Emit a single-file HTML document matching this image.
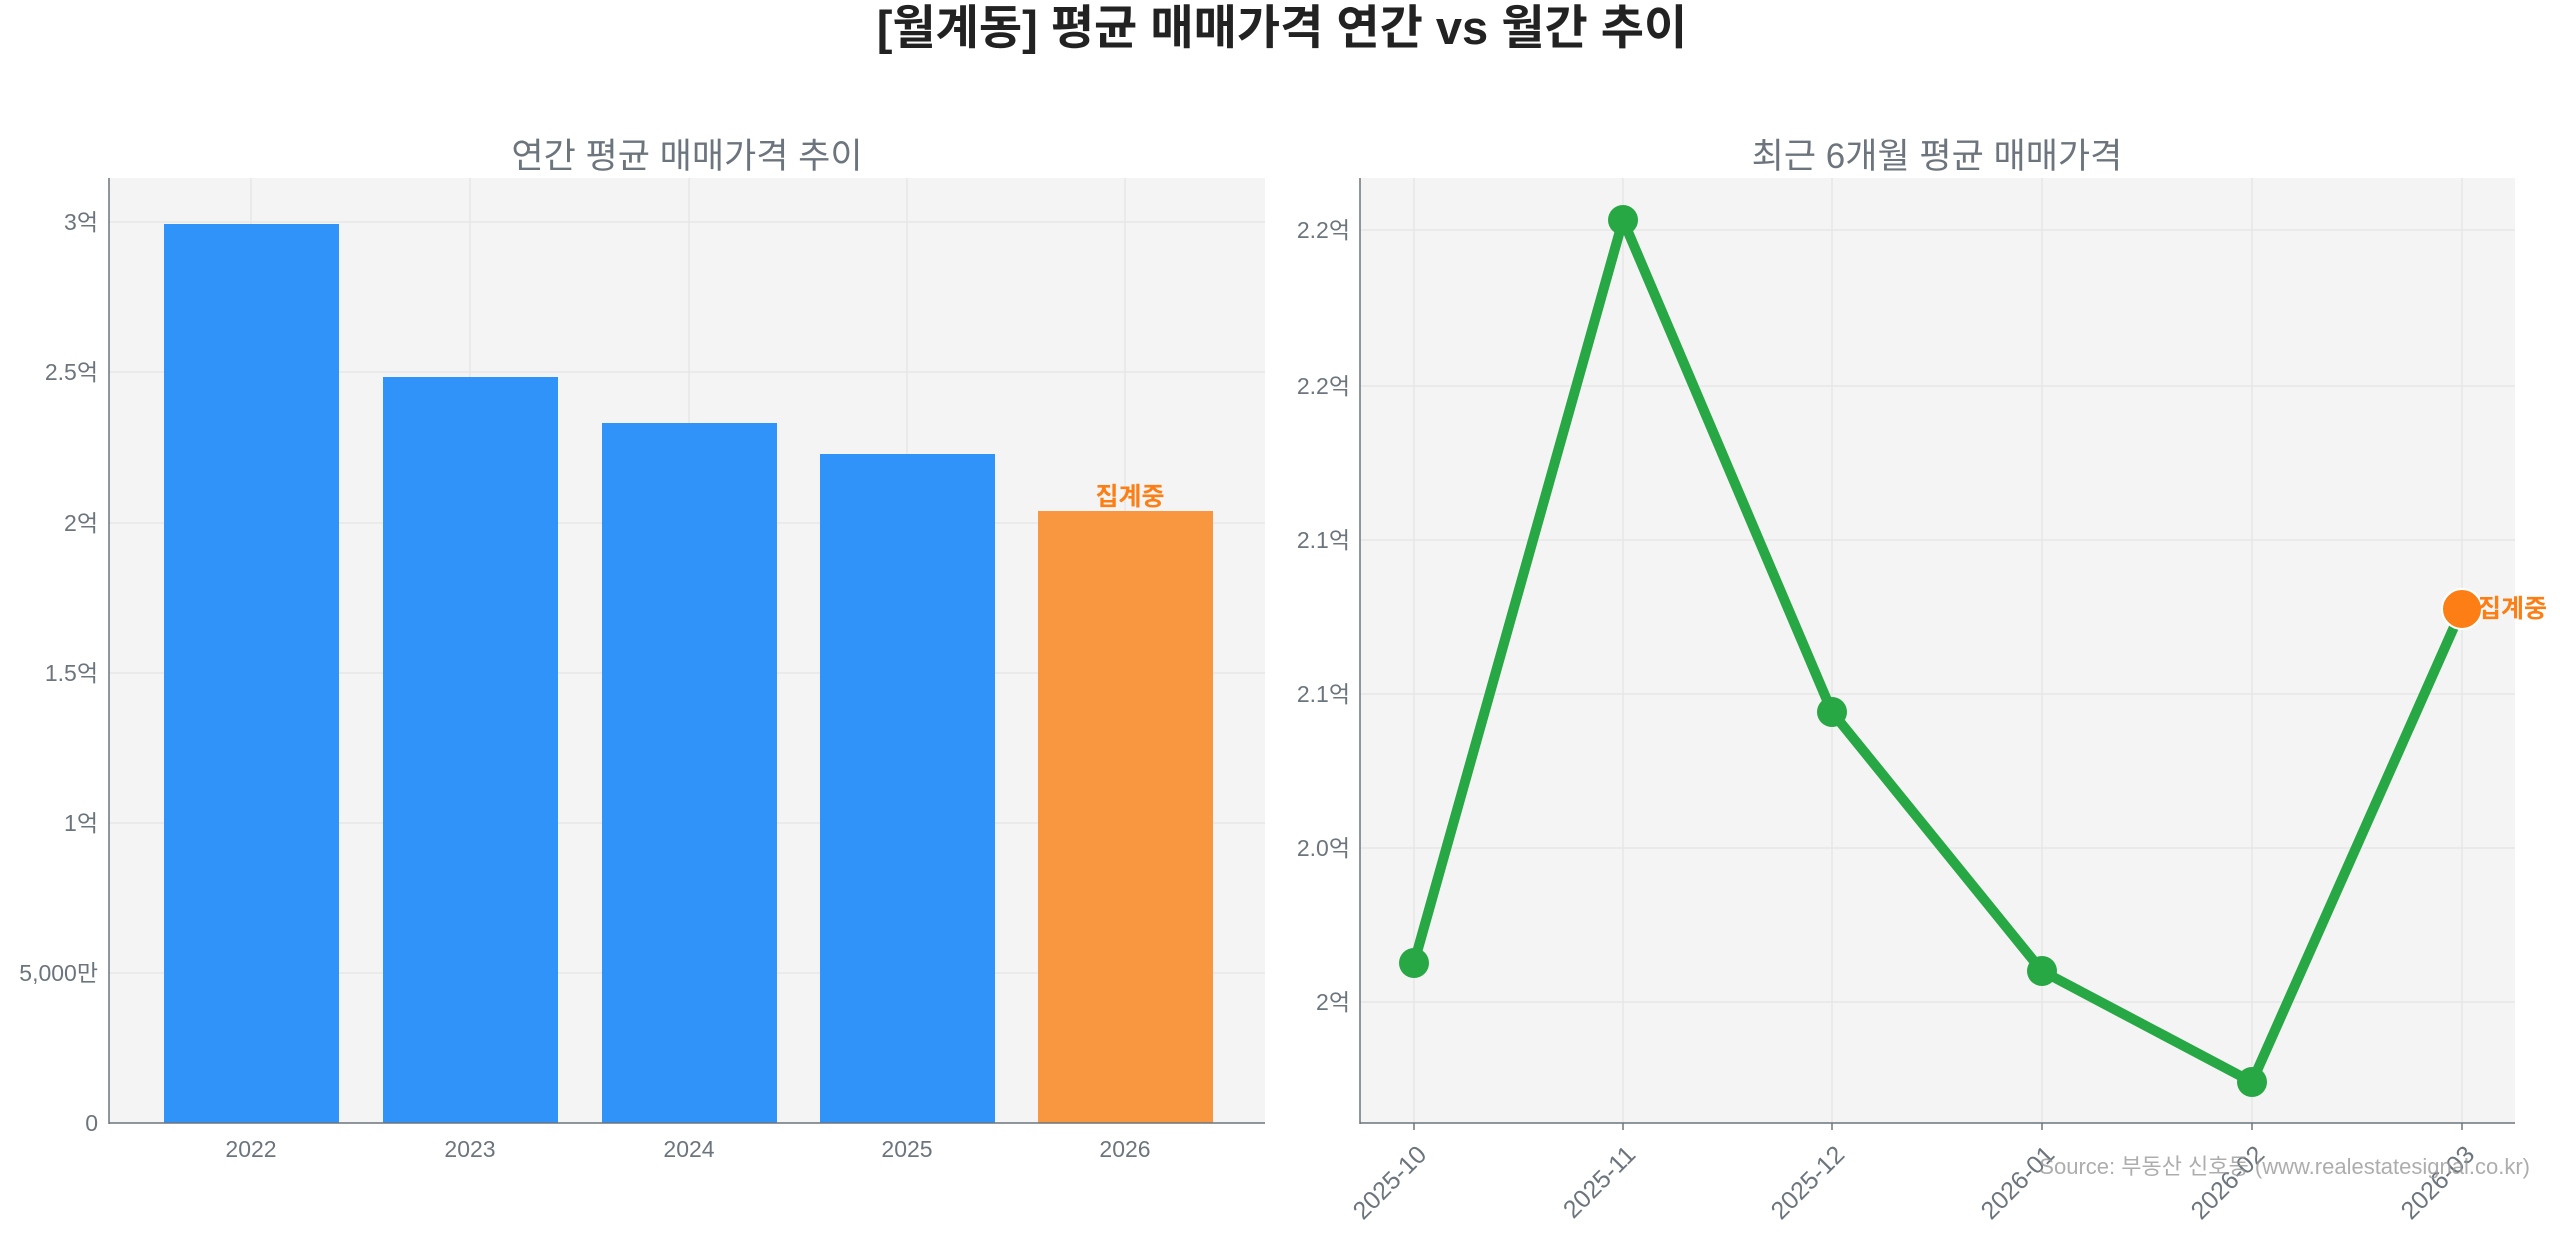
<!DOCTYPE html>
<html><head><meta charset="utf-8"><style>
html,body{margin:0;padding:0;background:#fff}
svg{display:block}
text{font-family:"Liberation Sans","Noto Sans CJK KR",sans-serif}
</style></head><body>
<svg width="2560" height="1234" viewBox="0 0 2560 1234" xmlns="http://www.w3.org/2000/svg">
<text x="1282" y="44" text-anchor="middle" font-size="47" font-weight="bold" fill="#222">[월계동] 평균 매매가격 연간 vs 월간 추이</text>

<!-- Left -->
<text x="687" y="168" text-anchor="middle" font-size="35" fill="#6c757d">연간 평균 매매가격 추이</text>
<rect x="109" y="178" width="1156" height="945" fill="#f4f4f4"/>
<g stroke="#e6e6e6" stroke-width="1.5">
<line x1="109" x2="1265" y1="222" y2="222"/><line x1="109" x2="1265" y1="372" y2="372"/>
<line x1="109" x2="1265" y1="523" y2="523"/><line x1="109" x2="1265" y1="673" y2="673"/>
<line x1="109" x2="1265" y1="823" y2="823"/><line x1="109" x2="1265" y1="973" y2="973"/>
<line x1="251" x2="251" y1="178" y2="1123"/><line x1="470" x2="470" y1="178" y2="1123"/>
<line x1="689" x2="689" y1="178" y2="1123"/><line x1="907" x2="907" y1="178" y2="1123"/>
<line x1="1125" x2="1125" y1="178" y2="1123"/>
</g>
<g fill="#3093f9">
<rect x="164" y="224" width="175" height="899"/>
<rect x="383" y="377" width="175" height="746"/>
<rect x="602" y="423" width="175" height="700"/>
<rect x="820" y="454" width="175" height="669"/>
</g>
<rect x="1038" y="511" width="175" height="612" fill="#f99740"/>
<text x="1130" y="505" text-anchor="middle" font-size="25" font-weight="bold" fill="#fd7e14">집계중</text>
<g stroke="#6c757d" stroke-width="1.5">
<line x1="109" x2="109" y1="178" y2="1124"/><line x1="109" x2="1265" y1="1123" y2="1123"/>
</g>
<g font-size="23" fill="#6c757d" text-anchor="end">
<text x="98" y="230">3억</text><text x="98" y="380">2.5억</text><text x="98" y="531">2억</text>
<text x="98" y="681">1.5억</text><text x="98" y="831">1억</text><text x="98" y="981">5,000만</text>
<text x="98" y="1131">0</text>
</g>
<g font-size="23" fill="#6c757d" text-anchor="middle">
<text x="251" y="1157">2022</text><text x="470" y="1157">2023</text><text x="689" y="1157">2024</text>
<text x="907" y="1157">2025</text><text x="1125" y="1157">2026</text>
</g>

<!-- Right -->
<text x="1937" y="168" text-anchor="middle" font-size="35" fill="#6c757d">최근 6개월 평균 매매가격</text>
<rect x="1360" y="178" width="1155" height="945" fill="#f4f4f4"/>
<g stroke="#e6e6e6" stroke-width="1.5">
<line x1="1360" x2="2515" y1="230" y2="230"/><line x1="1360" x2="2515" y1="386" y2="386"/>
<line x1="1360" x2="2515" y1="540" y2="540"/><line x1="1360" x2="2515" y1="694" y2="694"/>
<line x1="1360" x2="2515" y1="848" y2="848"/><line x1="1360" x2="2515" y1="1002" y2="1002"/>
<line x1="1414" x2="1414" y1="178" y2="1123"/><line x1="1623" x2="1623" y1="178" y2="1123"/>
<line x1="1832" x2="1832" y1="178" y2="1123"/><line x1="2042" x2="2042" y1="178" y2="1123"/>
<line x1="2252" x2="2252" y1="178" y2="1123"/><line x1="2462" x2="2462" y1="178" y2="1123"/>
</g>
<polyline points="1414,963 1623,220 1832,712 2042,971 2252,1082 2462,609" fill="none" stroke="#28a745" stroke-width="10" stroke-linejoin="round"/>
<g fill="#28a745">
<circle cx="1414" cy="963" r="15"/><circle cx="1623" cy="220" r="15"/><circle cx="1832" cy="712" r="15"/>
<circle cx="2042" cy="971" r="15"/><circle cx="2252" cy="1082" r="15"/>
</g>
<circle cx="2462" cy="609" r="20" fill="#fd7e14" stroke="#fff" stroke-width="2"/>
<text x="2478" y="617" font-size="25" font-weight="bold" fill="#fd7e14">집계중</text>
<g stroke="#6c757d" stroke-width="1.5">
<line x1="1360" x2="1360" y1="178" y2="1124"/><line x1="1360" x2="2515" y1="1123" y2="1123"/>
<line x1="1414" x2="1414" y1="1123" y2="1130"/><line x1="1623" x2="1623" y1="1123" y2="1130"/>
<line x1="1832" x2="1832" y1="1123" y2="1130"/><line x1="2042" x2="2042" y1="1123" y2="1130"/>
<line x1="2252" x2="2252" y1="1123" y2="1130"/><line x1="2462" x2="2462" y1="1123" y2="1130"/>
</g>
<g font-size="23" fill="#6c757d" text-anchor="end">
<text x="1350" y="238">2.2억</text><text x="1350" y="394">2.2억</text><text x="1350" y="548">2.1억</text>
<text x="1350" y="702">2.1억</text><text x="1350" y="856">2.0억</text><text x="1350" y="1010">2억</text>
</g>
<g font-size="25" fill="#6c757d" text-anchor="end">
<text transform="translate(1428,1156) rotate(-45)">2025-10</text>
<text transform="translate(1637,1156) rotate(-45)">2025-11</text>
<text transform="translate(1846,1156) rotate(-45)">2025-12</text>
<text transform="translate(2056,1156) rotate(-45)">2026-01</text>
<text transform="translate(2266,1156) rotate(-45)">2026-02</text>
<text transform="translate(2476,1156) rotate(-45)">2026-03</text>
</g>
<text x="2530" y="1174" text-anchor="end" font-size="22" fill="#999" fill-opacity="0.8">Source: 부동산 신호등 (www.realestatesignal.co.kr)</text>
</svg>
</body></html>
